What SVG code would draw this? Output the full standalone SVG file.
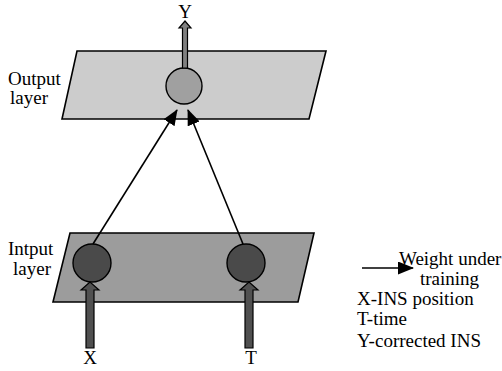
<svg xmlns="http://www.w3.org/2000/svg" width="502" height="371" viewBox="0 0 502 371">
  <defs>
    <style>
      text { font-family: 'Liberation Serif', 'Times New Roman', Times, serif; font-size: 19px; fill: #000; }
      .plane { stroke: #000; stroke-width: 1.6; }
      .node { stroke: #000; stroke-width: 1.4; }
      .edge { stroke: #000; stroke-width: 1.6; fill: none; }
      .io { stroke: #000; stroke-width: 1.2; }
    </style>
    <marker id="head" viewBox="0 0 16 13" refX="15" refY="6.5" markerWidth="16" markerHeight="13" markerUnits="userSpaceOnUse" orient="auto">
      <path d="M0,0 L16,6.5 L0,13 Z" fill="#000"/>
    </marker>
  </defs>

  <rect width="502" height="371" fill="#fff"/>

  <g font-family="Liberation Serif, serif" font-size="19">
  <!-- output layer -->
  <g id="output-layer">
    <polygon class="plane" points="77,51 326,51 309,119 62,119" fill="#cccccc"/>
    <text x="8" y="85">Output</text>
    <text x="10" y="104">layer</text>
  </g>

  <!-- input layer -->
  <g id="input-layer">
    <polygon class="plane" points="70,233 314,233 298,302 53,302" fill="#9c9c9c"/>
    <text x="8" y="255">Intput</text>
    <text x="13" y="275">layer</text>
  </g>

  <!-- weighted connections -->
  <g id="connectors">
    <line class="edge" x1="93" y1="244" x2="177" y2="110" marker-end="url(#head)"/>
    <line class="edge" x1="243" y1="244" x2="188" y2="110" marker-end="url(#head)"/>
  </g>

  <!-- neurons -->
  <g id="node-y">
    <circle class="node" cx="184" cy="86" r="18" fill="#a0a0a0"/>
  </g>
  <g id="node-x">
    <circle class="node" cx="92" cy="263" r="19" fill="#4a4a4a"/>
  </g>
  <g id="node-t">
    <circle class="node" cx="246" cy="263" r="19" fill="#4a4a4a"/>
  </g>

  <!-- signal arrows -->
  <g id="signal-y">
    <path class="io" d="M182.5,68 L182.5,28 L179,28 L185,21 L191,28 L187.5,28 L187.5,68 Z" fill="#808080"/>
    <text x="185" y="18" text-anchor="middle">Y</text>
  </g>
  <g id="signal-x">
    <path class="io" d="M86,348 L86,290 L81,290 L90,282 L99,290 L94,290 L94,348 Z" fill="#505050"/>
    <text x="90" y="364" text-anchor="middle">X</text>
  </g>
  <g id="signal-t">
    <path class="io" d="M245,348 L245,290 L240,290 L249,282 L258,290 L253,290 L253,348 Z" fill="#505050"/>
    <text x="251" y="364" text-anchor="middle">T</text>
  </g>

  <!-- legend -->
  <g id="legend">
    <line class="edge" x1="362" y1="268" x2="413" y2="268" marker-end="url(#head)"/>
    <text x="399" y="265">Weight under</text>
    <text x="420" y="285">training</text>
    <text x="357" y="305">X-INS position</text>
    <text x="357" y="325">T-time</text>
    <text x="357" y="347">Y-corrected INS</text>
  </g>
  </g>
</svg>
